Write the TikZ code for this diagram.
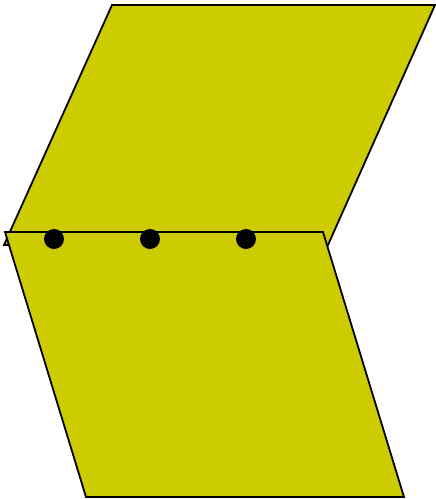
\documentclass[tikz,border=0pt]{standalone}
\begin{document}
\begin{tikzpicture}[x=1pt,y=-1pt,
  plate/.style={draw=black,fill=olivefill,line width=1.8pt,line join=miter},
  dot/.style={circle,fill=black,inner sep=0pt,minimum size=20pt}]
\definecolor{olivefill}{HTML}{CCCC00}
\useasboundingbox (0,0) rectangle (436,499);
\draw[plate] (112,5) coordinate (t1) -- (435,5) coordinate (t2) -- (328,245) coordinate (t3) -- (4,245) coordinate (t4) -- cycle;
\draw[plate] (5,232) coordinate (b1) -- (323,232) coordinate (b2) -- (404,497) coordinate (b3) -- (86,497) coordinate (b4) -- cycle;
\node[dot] (d1) at (54,239) {};
\node[dot] (d2) at (150,239) {};
\node[dot] (d3) at (246,239) {};
\end{tikzpicture}
\end{document}
